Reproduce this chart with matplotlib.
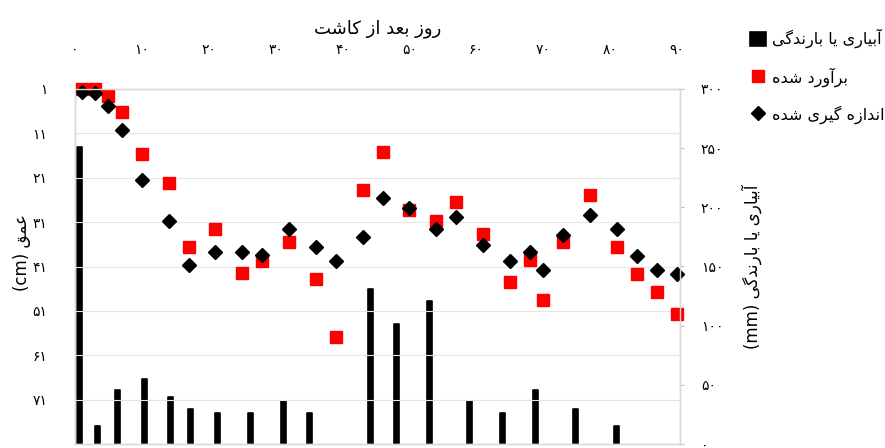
import matplotlib
matplotlib.use("Agg")
import matplotlib.pyplot as plt

plt.rcParams['font.family'] = ['DejaVu Sans']

# ---------------- data ----------------
days = [1, 3, 5, 7, 10, 14, 17, 21, 25, 28, 32, 36, 39, 43, 46, 50, 54, 57,
        61, 65, 68, 70, 73, 77, 81, 84, 87, 90]
measured = [1.6, 2.0, 4.8, 10.3, 21.5, 30.8, 40.6, 37.7, 37.7, 38.5, 32.5, 36.6,
            39.7, 34.4, 25.6, 27.8, 32.5, 29.9, 36.1, 39.7, 37.7, 41.7, 33.8,
            29.5, 32.5, 38.6, 41.7, 42.6]
estimated = [1.0, 1.0, 2.5, 6.2, 15.7, 22.2, 36.6, 32.5, 42.5, 39.7, 35.5, 43.9,
             56.8, 23.7, 15.3, 28.3, 30.8, 26.5, 33.7, 44.5, 39.5, 48.6, 35.5,
             25.0, 36.6, 42.8, 46.7, 51.8]
irr_days = [0.6, 3.4, 6.4, 10.4, 14.3, 17.3, 21.3, 26.3, 31.2, 35.1, 44.2, 48.1,
            53.0, 59.0, 63.9, 68.9, 74.9, 80.9]
irr_mm = [251, 15, 46, 55, 40, 30, 26, 26, 36, 26, 131, 101, 121, 36, 26, 46, 30, 15]

x_ticks = [0, 10, 20, 30, 40, 50, 60, 70, 80, 90]
depth_ticks = [1, 11, 21, 31, 41, 51, 61, 71]
mm_ticks = [0, 50, 100, 150, 200, 250, 300]

xlabel_text = 'روز بعد از کاشت'
ylabel_left_text = 'عمق'
ylabel_left_unit = 'cm'
ylabel_right_text = 'آبیاری یا بارندگی'
ylabel_right_unit = 'mm'
legend_texts = ['آبیاری یا بارندگی', 'برآورد شده', 'اندازه گیری شده']

# ---------------- simple Persian shaping ----------------
FORMS = {
    'ا': ('\uFE8D', '\uFE8E', None, None),
    'آ': ('\uFE81', '\uFE82', None, None),
    'ب': ('\uFE8F', '\uFE90', '\uFE91', '\uFE92'),
    'ت': ('\uFE95', '\uFE96', '\uFE97', '\uFE98'),
    'د': ('\uFEA9', '\uFEAA', None, None),
    'ر': ('\uFEAD', '\uFEAE', None, None),
    'ز': ('\uFEAF', '\uFEB0', None, None),
    'ش': ('\uFEB5', '\uFEB6', '\uFEB7', '\uFEB8'),
    'ع': ('\uFEC9', '\uFECA', '\uFECB', '\uFECC'),
    'ق': ('\uFED5', '\uFED6', '\uFED7', '\uFED8'),
    'م': ('\uFEE1', '\uFEE2', '\uFEE3', '\uFEE4'),
    'ن': ('\uFEE5', '\uFEE6', '\uFEE7', '\uFEE8'),
    'ه': ('\uFEE9', '\uFEEA', '\uFEEB', '\uFEEC'),
    'و': ('\uFEED', '\uFEEE', None, None),
    'ک': ('\uFB8E', '\uFB8F', '\uFB90', '\uFB91'),
    'گ': ('\uFB92', '\uFB93', '\uFB94', '\uFB95'),
    'ی': ('\uFBFC', '\uFBFD', '\uFBFE', '\uFBFF'),
}


def shape(s):
    out = []
    for i, c in enumerate(s):
        if c not in FORMS:
            out.append(c)
            continue
        f = FORMS[c]
        prev = s[i - 1] if i > 0 else ''
        nxt = s[i + 1] if i + 1 < len(s) else ''
        jp = prev in FORMS and FORMS[prev][2] is not None
        jn = f[2] is not None and nxt in FORMS
        if jp and jn:
            out.append(f[3])
        elif jp:
            out.append(f[1])
        elif jn:
            out.append(f[2])
        else:
            out.append(f[0])
    return ''.join(out)


def rtl(s):
    return shape(s)[::-1]


FA = str.maketrans('0123456789', '۰۱۲۳۴۵۶۷۸۹')


def fa(n):
    return str(n).translate(FA)


# ---------------- figure ----------------
W, H = 885, 448
fig = plt.figure(figsize=(W / 100, H / 100), dpi=100)
ax = fig.add_axes([75 / W, 4 / H, 605 / W, 355 / H])
ax2 = ax.twinx()
ax.set_zorder(ax2.get_zorder() + 1)
ax.patch.set_visible(False)

grey = '#d9d9d9'

bars = ax2.bar(irr_days, irr_mm, width=0.75, color='black', edgecolor='black',
               linewidth=1.2, joinstyle='round')
ax2.set_ylim(0, 300)
ax2.set_yticks(mm_ticks)
ax2.set_yticklabels([fa(v) for v in mm_ticks])
ax2.tick_params(axis='y', length=3, color='#bfbfbf', pad=12, labelsize=10)

est_line, = ax.plot(days, estimated, 's', color='#ff0000', ms=8.5, ls='none',
                    clip_on=False)
meas_line, = ax.plot(days, measured, 'D', color='black', ms=7.5, ls='none',
                     clip_on=False)

ax.set_ylim(81, 1)
ax.set_yticks(depth_ticks)
ax.set_yticklabels([fa(v) for v in depth_ticks])
ax.set_xlim(0, 90.45)
ax.set_xticks(x_ticks)
ax.set_xticklabels([fa(v) for v in x_ticks])
ax.xaxis.tick_top()
ax.tick_params(axis='x', length=0, pad=23, labelsize=10)
ax.tick_params(axis='y', length=0, pad=20, labelsize=10)
ax.grid(axis='y', color='#e6e6e6', lw=0.8)
ax.set_axisbelow(True)

for a in (ax, ax2):
    for sp in a.spines.values():
        sp.set_color(grey)
        sp.set_linewidth(1.0)

ax.xaxis.set_label_position('top')
ax.set_xlabel(rtl(xlabel_text), fontsize=13)
ax.xaxis.label.set_va('center')
ax.xaxis.set_label_coords(0.5, 1.171)

ax.set_ylabel('(%s) ' % ylabel_left_unit + rtl(ylabel_left_text), fontsize=12,
              rotation=90, va='center', ha='center')
ax.yaxis.set_label_coords(-0.0876, 0.539)

ax2.set_ylabel('(%s) ' % ylabel_right_unit + rtl(ylabel_right_text), fontsize=12,
               rotation=90, va='center', ha='center')
ax2.yaxis.set_label_coords(1.119, 0.5)

fig.legend([bars, est_line, meas_line], [rtl(t) for t in legend_texts],
           loc='upper left', bbox_to_anchor=(750 / W, 1 - 29 / H),
           frameon=False, fontsize=11.5, handlelength=1.0, handleheight=1.0,
           handletextpad=0.4, labelspacing=1.17, borderaxespad=0, borderpad=0)

fig.savefig('out.png', dpi=100)
